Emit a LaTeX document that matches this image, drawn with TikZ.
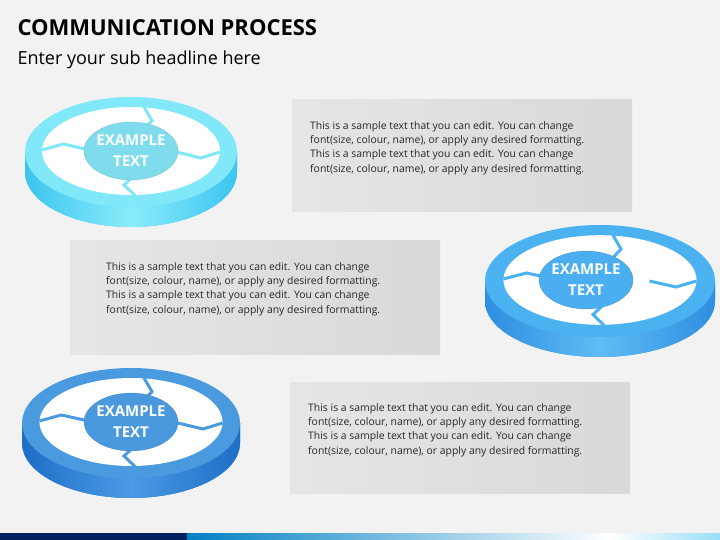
\documentclass[tikz,border=0pt]{standalone}
\usepackage{fontspec}
\setmainfont{Open Sans}
\definecolor{aT}{HTML}{80E8F8}\definecolor{aS}{HTML}{3CC4F0}\definecolor{aS2}{HTML}{8AECFA}\definecolor{aC}{HTML}{7FDCEC}
\definecolor{bT}{HTML}{4AB2F0}\definecolor{bS}{HTML}{2E8EE0}\definecolor{bS2}{HTML}{60BCF4}\definecolor{bC}{HTML}{4AAEF0}
\definecolor{cT}{HTML}{4A9AE0}\definecolor{cS}{HTML}{1E6EC8}\definecolor{cS2}{HTML}{4A9AE4}\definecolor{cC}{HTML}{4A98DE}
\definecolor{navy}{HTML}{002060}\definecolor{midb}{HTML}{00AAEE}
\begin{document}
\begin{tikzpicture}[x=1pt,y=-1pt,
  body/.style={anchor=north west,align=left,font=\fontsize{10.4}{14.3}\selectfont,text=black!85,inner sep=0pt},
  ctext/.style={align=center,font=\bfseries\fontsize{15}{21}\selectfont,text=white},
  spoke/.style={line width=3pt,line join=miter}]
\fill[gray!10] (0,0) rectangle (720,540);
\useasboundingbox (0,0) rectangle (720,540);
\node[anchor=west,font=\bfseries\fontsize{22}{26}\selectfont] (title) at (14,28) {COMMUNICATION PROCESS};
\node[anchor=west,font=\fontsize{18}{22}\selectfont] (sub) at (14,60) {Enter your sub headline here};
\fill[navy] (0,533) rectangle (187,540);
\shade[left color=midb!70!navy,right color=white] (187,533) rectangle (610,540);
\shade[left color=white,right color=midb!40] (610,533) rectangle (720,540);
\shade[left color=gray!20,right color=gray!30] (292,100) rectangle (632,212);
\shade[left color=gray!20,right color=gray!30] (70,240) rectangle (440,354);
\shade[left color=gray!20,right color=gray!30] (290,382) rectangle (630,493);
\node[body] (t1) at (310,121) {This is a sample text that you can edit. You can change\\font(size, colour, name), or apply any desired formatting.\\This is a sample text that you can edit. You can change\\font(size, colour, name), or apply any desired formatting.};
\node[body] (t2) at (106,262) {This is a sample text that you can edit. You can change\\font(size, colour, name), or apply any desired formatting.\\This is a sample text that you can edit. You can change\\font(size, colour, name), or apply any desired formatting.};
\node[body] (t3) at (308,403) {This is a sample text that you can edit. You can change\\font(size, colour, name), or apply any desired formatting.\\This is a sample text that you can edit. You can change\\font(size, colour, name), or apply any desired formatting.};
\newcommand{\mydisk}[7]{%
  \begin{scope}[shift={(#1,#2)}]
  \fill[#5S] (-#3,0) -- (-#3,20) arc[start angle=180,end angle=0,x radius=#3,y radius=#4] -- (#3,0) -- cycle;
  \shade[left color=#5S,right color=#5S,middle color=#5S2]
    (-#3,0) -- (-#3,20) arc[start angle=180,end angle=0,x radius=#3,y radius=#4] -- (#3,0) -- cycle;
  \fill[#5T] (0,0) ellipse[x radius=#3,y radius=#4];
  \fill[white] (0,-1) ellipse[x radius={#3*0.84},y radius={#4*0.8}];
  \draw[spoke,#5T] (13,{-#4*0.8-1}) -- (21,{-#4*0.57}) -- (11,{-#4*0.38});
  \draw[spoke,#5T] ({#3*0.84},0) -- ({#3*0.66},6) -- ({#3*0.43},0);
  \draw[spoke,#5T] (4,{#4*0.79}) -- (-7,{#4*0.6}) -- (2,{#4*0.45});
  \draw[spoke,#5T] ({-#3*0.84},-2) -- ({-#3*0.64},-8) -- ({-#3*0.43},-3);
  \fill[#5C] (#6,-1) ellipse[x radius=47,y radius=29];
  \draw[#5T!70!black,line width=0.4pt,opacity=0.5] (#6,-1) ellipse[x radius=47,y radius=29];
  \node[ctext] (#7) at (#6,-1) {EXAMPLE\\TEXT};
  \end{scope}}
\mydisk{131}{152}{106}{55}{a}{0}{c1}
\mydisk{600}{281}{115}{56}{b}{-14}{c2}
\mydisk{131}{423}{109}{55}{c}{0}{c3}
\end{tikzpicture}
\end{document}
